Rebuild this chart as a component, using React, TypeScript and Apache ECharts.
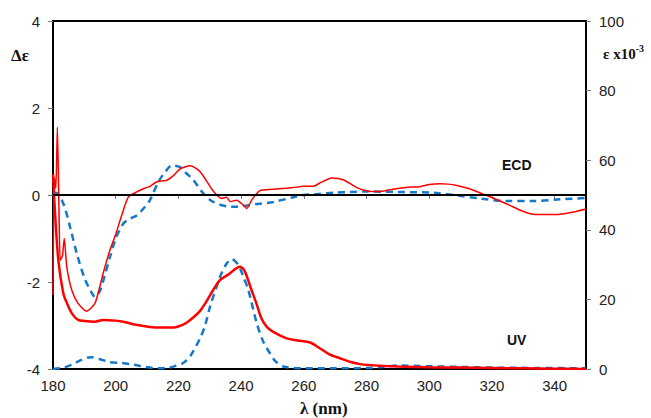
import React, { useEffect, useRef } from "react";
import * as echarts from "echarts";

const xTicks = [180, 200, 220, 240, 260, 280, 300, 320, 340];
const ecdRed: [number, number][] = [
  [180, -2.3], [180.4, 0.4], [180.9, 0.15], [181.4, 1.56], [181.9, -0.3], [182.3, -1.5], [183, -1.4],
  [183.6, -1.0], [184.4, -1.65], [186, -2.19], [188, -2.49], [190.7, -2.67], [193.4, -2.49], [196, -1.8],
  [198, -1.3], [200, -0.9], [202, -0.45], [204, -0.05], [206.7, 0.07], [209, 0.15], [211, 0.2], [213, 0.3],
  [216.3, 0.34], [218.5, 0.45], [220.5, 0.6], [223.7, 0.67], [225.5, 0.62], [227, 0.53], [229, 0.32],
  [231, 0.1], [233.8, -0.08], [235.4, -0.05], [236.5, -0.15], [238.6, -0.12], [240.5, -0.22], [241.8, -0.31],
  [243.5, -0.1], [246, 0.1], [250, 0.13], [253, 0.15], [256.7, 0.17], [260, 0.2], [263, 0.2], [265, 0.27],
  [268.9, 0.39], [272.6, 0.35], [276.9, 0.17], [280, 0.1], [283, 0.08], [286, 0.1], [290, 0.15], [293, 0.18],
  [297, 0.19], [300, 0.24], [303.4, 0.26], [306, 0.25], [308.8, 0.22], [312, 0.16], [314.1, 0.11],
  [318.3, -0.01], [322, -0.12], [325.8, -0.24], [329, -0.35], [332.2, -0.43], [336, -0.45], [339.6, -0.45],
  [343, -0.43], [346, -0.39], [350, -0.32],
];
const ecdBlue: [number, number][] = [
  [180, 0.05], [181, 0.05], [183.3, -0.2], [185.5, -0.75], [187.6, -1.35], [190, -1.9], [192, -2.2],
  [193.4, -2.34], [195, -2.2], [196.5, -1.85], [198.2, -1.42], [200, -1.0], [202.4, -0.66], [204.5, -0.55],
  [206.7, -0.47], [209, -0.3], [210.9, -0.12], [213.6, 0.3], [216, 0.55], [217.9, 0.68], [220.5, 0.64],
  [222.5, 0.5], [224.8, 0.34], [228, 0.03], [231.1, -0.16], [235.4, -0.26], [238, -0.27], [241.8, -0.24],
  [246, -0.2], [250.3, -0.16], [256.7, -0.05], [260, 0], [264, 0.02], [269.4, 0.05], [275, 0.07], [280, 0.08],
  [290, 0.07], [301.3, 0.05], [308.8, -0.01], [316.2, -0.08], [324.7, -0.14], [333.2, -0.14], [341.7, -0.1],
  [350, -0.07],
];
const uvRed: [number, number][] = [
  [180, 56], [180.6, 45.6], [181.7, 31.3], [183.3, 21.7], [184.4, 19], [186, 16], [188, 14.1], [190, 13.8],
  [193.4, 13.6], [196, 14.1], [200, 13.9], [202.4, 13.6], [206, 12.8], [210.9, 12.1], [214, 11.9],
  [218.4, 11.9], [220.5, 12.4], [222.6, 13.3], [225, 15], [226.9, 16.7], [229, 19.5], [231.1, 22.7],
  [233.3, 25.6], [236, 27.2], [239.6, 29.4], [241.2, 28], [243, 23.5], [245, 18.5], [246.5, 14.5],
  [248.2, 12.1], [250, 10.8], [254.5, 8.8], [258, 8.2], [262, 7.6], [265.2, 5.9], [268, 4.3], [271.5, 3.1],
  [275, 2], [277.9, 1.4], [284.3, 0.9], [290, 0.7], [300, 0.5], [310, 0.4], [320, 0.3], [330, 0.2],
  [340, 0.1], [350, 0],
];
const uvBlue: [number, number][] = [
  [180, 0], [183, 0.3], [186, 1.2], [189, 2.6], [192, 3.4], [195, 2.8], [198, 2.0], [202, 1.7], [206, 1.2],
  [210, 0.5], [214, 0.2], [217, 0.4], [219, 0.9], [221.5, 1.7], [224, 4], [227, 9], [228.5, 12.5],
  [230.1, 17.9], [233.3, 26.5], [235.4, 30.3], [237, 31.6], [239.1, 29.9], [240.5, 27], [242.3, 22.7],
  [245, 13.1], [247, 8], [249.2, 4.5], [251, 2.2], [253.5, 0.7], [259, 0.2], [270, 0.2], [280, 0.3],
  [285, 0.6], [290, 1.0], [300, 0.8], [310, 0.6], [320, 0.4], [335, 0.3], [350, 0.2],
];

const RED = "#FF0000";
const BLUE = "#1878C8";
const sans = "Liberation Sans";
const serif = "Liberation Serif";

export default function App() {
  const ref = useRef<HTMLDivElement>(null);
  useEffect(() => {
    if (!ref.current) return;
    const chart = echarts.init(ref.current, undefined, { renderer: "svg" });
    const axisLabel = { color: "#222", fontFamily: sans, fontSize: 15 };
    chart.setOption({
      animation: false,
      backgroundColor: "#fff",
      grid: { left: 53, right: 65, top: 21, bottom: 49, show: true, borderColor: "#000", borderWidth: 2, backgroundColor: "transparent" },
      xAxis: {
        type: "value", min: 180, max: 350, interval: 20,
        axisLine: { show: true, lineStyle: { color: "#000", width: 2 } },
        axisTick: { show: true, length: 4, lineStyle: { color: "#777" } },
        axisLabel: { ...axisLabel, margin: 9, showMaxLabel: false, formatter: (v: number) => (xTicks.includes(v) ? String(v) : "") },
        splitLine: { show: false },
      },
      yAxis: [
        {
          type: "value", min: -4, max: 4, interval: 2, position: "left",
          axisLine: { show: true, lineStyle: { color: "#000", width: 2 } },
          axisTick: { show: true, length: 5, lineStyle: { color: "#777" } },
          axisLabel: { ...axisLabel, margin: 13 },
          splitLine: { show: false },
        },
        {
          type: "value", min: 0, max: 100, interval: 20, position: "right",
          axisLine: { show: true, lineStyle: { color: "#000", width: 2 } },
          axisTick: { show: true, length: 5, lineStyle: { color: "#777" } },
          axisLabel: { ...axisLabel, margin: 13 },
          splitLine: { show: false },
        },
      ],
      series: [
        {
          type: "line", name: "UV calc", yAxisIndex: 1, data: uvBlue, showSymbol: false, smooth: 0.3,
          lineStyle: { color: BLUE, width: 2.5, type: [7, 5] },
        },
        {
          type: "line", name: "UV exp", yAxisIndex: 1, data: uvRed, showSymbol: false, smooth: 0.3,
          lineStyle: { color: RED, width: 2.5 },
        },
        {
          type: "line", name: "ECD calc", yAxisIndex: 0, data: ecdBlue, showSymbol: false, smooth: 0.3,
          lineStyle: { color: BLUE, width: 2.5, type: [7, 5] },
        },
        {
          type: "line", name: "ECD exp", yAxisIndex: 0, data: ecdRed, showSymbol: false, smooth: 0.2,
          lineStyle: { color: RED, width: 1.5 },
          markLine: {
            silent: true, symbol: ["none", "none"], label: { show: false },
            lineStyle: { color: "#000", width: 2, type: "solid" },
            data: [{ yAxis: 0 }],
          },
        },
      ],
      graphic: [
        { type: "text", left: 11, top: 47, style: { text: "Δε", fontFamily: serif, fontWeight: "bold", fontSize: 17, fill: "#111" } },
        {
          type: "text", left: 603, top: 43,
          style: {
            text: "{a|ε x10}{b|-3}",
            rich: {
              a: { fontFamily: serif, fontWeight: "bold", fontSize: 15, fill: "#111", verticalAlign: "bottom" },
              b: { fontFamily: serif, fontWeight: "bold", fontSize: 10, fill: "#111", verticalAlign: "top", padding: [0, 0, 8, 0] },
            },
          },
        },
        { type: "text", left: 502, top: 158, style: { text: "ECD", fontFamily: sans, fontWeight: "bold", fontSize: 14, fill: "#111" } },
        { type: "text", left: 507, top: 333, style: { text: "UV", fontFamily: sans, fontWeight: "bold", fontSize: 14, fill: "#111" } },
        { type: "text", left: 300, top: 400, style: { text: "λ (nm)", fontFamily: serif, fontWeight: "bold", fontSize: 17, fill: "#111" } },
      ],
    });
    return () => chart.dispose();
  }, []);
  return <div ref={ref} style={{ width: 651, height: 418, position: "absolute", left: 0, top: 0 }} />;
}
